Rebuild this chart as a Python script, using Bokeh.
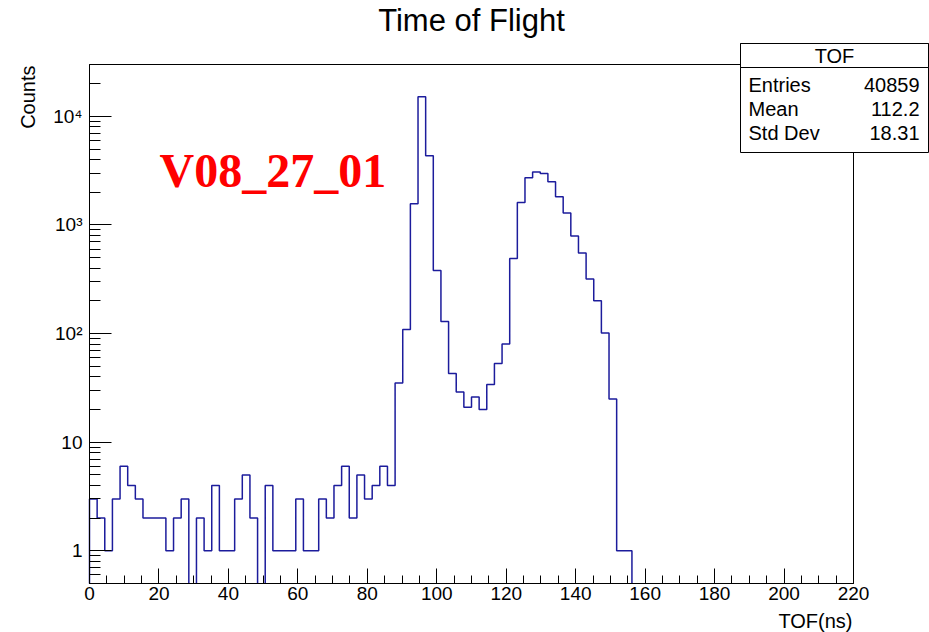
import numpy as np
from bokeh.plotting import figure
from bokeh.models import Range1d, FixedTicker, CustomJSTickFormatter, Label, BoxAnnotation
from bokeh.embed import file_html
from bokeh.resources import INLINE

# ---------------- data ----------------
x_lo, x_hi, n_bins = 0.0, 220.0, 100
counts = [3, 2, 1, 3, 6, 4, 3, 2, 2, 2,
          1, 2, 3, 0, 2, 1, 4, 1, 1, 3,
          5, 2, 0, 4, 1, 1, 1, 3, 1, 1,
          3, 2, 4, 6, 2, 5, 3, 4, 6, 4,
          35, 109, 1570, 15150, 4340, 380, 129, 43, 29, 21,
          26, 20, 34, 53, 80, 492, 1610, 2720, 3070, 2980,
          2500, 1820, 1290, 790, 551, 318, 200, 101, 25, 1,
          1] + [0] * 29
x_major = list(range(0, 221, 20))
x_minor = list(range(0, 221, 5))
y_major = [1, 10, 100, 1000, 10000]
y_lo, y_hi = 0.5, 30000.0
y_minor = [m * 10.0 ** k for k in range(-1, 5) for m in range(2, 10)
           if y_lo <= m * 10.0 ** k <= y_hi]
title_text = "Time of Flight"
x_title = "TOF(ns)"
y_title = "Counts"
stats_name = "TOF"
stats_rows = [("Entries", "40859"), ("Mean", "112.2"), ("Std Dev", "18.31")]
tag_text = "V08_27_01"

# ---------------- layout helpers ----------------
W, H = 929, 632
FL, FR, FT, FB = 89, 853, 64, 583
FONT = "Liberation Sans"


def px2x(px):
    return x_lo + (px - FL) / (FR - FL) * (x_hi - x_lo)


def py2y(py):
    return 10 ** (np.log10(y_lo) + (FB - py) / (FB - FT) * np.log10(y_hi / y_lo))


p = figure(width=W, height=H, output_backend="svg", toolbar_location=None,
           y_axis_type="log",
           x_range=Range1d(px2x(0), px2x(W)), y_range=Range1d(py2y(H), py2y(0)),
           min_border=0)
p.grid.visible = False
p.outline_line_color = None
p.background_fill_color = "white"
p.border_fill_color = "white"

# histogram outline (empty bins drop to the axis and are not drawn along it)
edges = np.linspace(x_lo, x_hi, n_bins + 1)
xs, ys = [x_lo], [y_lo]
for i, v in enumerate(counts):
    if v > 0:
        xs += [edges[i], edges[i + 1]]
        ys += [v, v]
    else:
        xs += [edges[i], np.nan, edges[i + 1]]
        ys += [y_lo, np.nan, y_lo]
p.line(np.array(xs), np.array(ys), line_color="#1c1c9c", line_width=1.5)

# ROOT-style frame
p.add_layout(BoxAnnotation(left=x_lo, right=x_hi, bottom=y_lo, top=y_hi,
                           fill_alpha=0, line_color="black", line_width=1, line_alpha=1))

# axes, pinned at the frame edges
for ax in (p.xaxis[0], p.yaxis[0]):
    ax.axis_line_color = "black"
    ax.major_tick_line_color = "black"
    ax.minor_tick_line_color = "black"
    ax.major_tick_out = 0
    ax.minor_tick_out = 0
    ax.major_label_text_font = FONT
    ax.major_label_text_font_size = "19px"
    ax.major_label_text_color = "black"

p.xaxis.fixed_location = y_lo
p.xaxis.bounds = (x_lo, x_hi)
p.xaxis.ticker = FixedTicker(ticks=x_major, minor_ticks=x_minor)
p.xaxis.major_tick_in = 15
p.xaxis.minor_tick_in = 8
p.xaxis.major_label_standoff = 3

p.yaxis.fixed_location = x_lo
p.yaxis.bounds = (y_lo, y_hi)
p.yaxis.ticker = FixedTicker(ticks=y_major, minor_ticks=y_minor)
p.yaxis.major_tick_in = 22
p.yaxis.minor_tick_in = 11
p.yaxis.major_label_standoff = 7
p.yaxis.formatter = CustomJSTickFormatter(code="""
const e = Math.round(Math.log10(tick));
const sup = {2: "\u00b2", 3: "\u00b3", 4: "\u2074"};
if (e == 0) return "1";
if (e == 1) return "10";
return "10" + sup[e];
""")


def lab(px, py, text, **kw):
    opts = dict(text_font=FONT, text_font_size="20px", text_color="black",
                text_baseline="middle")
    opts.update(kw)
    p.add_layout(Label(x=px2x(px), y=py2y(py), text=text, **opts))


# title and axis titles
lab(471, 20, title_text, text_font_size="31px", text_align="center")
lab(852, 620, x_title, text_align="right")
lab(27, 65, y_title, text_align="right", angle=np.pi / 2)

# red tag
lab(159, 170, tag_text, text_font="Liberation Serif", text_font_style="bold",
    text_font_size="48px", text_color="red", text_align="left")

# stats box
BL, BR, BT, BB, BH = 740, 928, 43, 152, 67
for bot in (BB, BH):
    p.add_layout(BoxAnnotation(left=px2x(BL), right=px2x(BR), top=py2y(BT), bottom=py2y(bot),
                               fill_color="white", fill_alpha=1.0, line_color="black",
                               line_width=1, line_alpha=1.0))
lab((BL + BR) / 2, 55, stats_name, text_align="center")
for i, (k, v) in enumerate(stats_rows):
    yy = 84 + 24 * i
    lab(748, yy, k, text_align="left")
    lab(919, yy, v, text_align="right")

open("out.html", "w").write(file_html(p, INLINE))
